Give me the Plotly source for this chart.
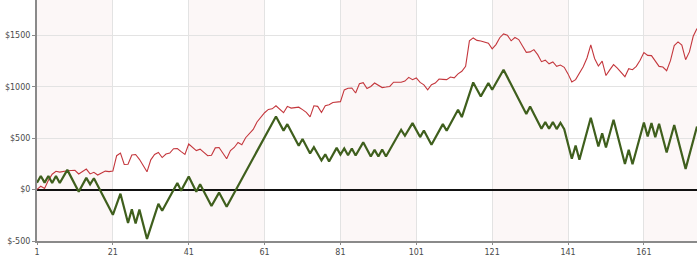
import plotly.graph_objects as go

# ---- data ----
red_vals = [
    2, 33, 12, 90, 150, 178, 170, 178, 183, 186,
    188, 152, 176, 200, 153, 168, 142, 160, 180, 175,
    180, 330, 355, 245, 246, 336, 342, 295, 235, 173,
    290, 342, 361, 312, 346, 355, 398, 400, 370, 342,
    444, 410, 380, 394, 360, 330, 335, 406, 410, 355,
    300, 380, 410, 458, 436, 505, 545, 585, 658, 705,
    748, 780, 786, 816, 780, 748, 810, 793, 798, 802,
    778, 752, 708, 816, 810, 751, 816, 825, 848, 852,
    856, 970, 987, 989, 940, 1030, 1040, 984, 1003, 1037,
    1016, 993, 998, 1004, 1045, 1045, 1045, 1056, 1092, 1070,
    1086, 1043, 1020, 972, 1021, 1037, 1076, 1073, 1070, 1096,
    1088, 1126, 1151, 1199, 1448, 1476, 1452, 1446, 1438, 1424,
    1369, 1411, 1478, 1515, 1503, 1448, 1480, 1460, 1398, 1336,
    1340, 1362, 1313, 1245, 1260, 1224, 1242, 1199, 1212, 1190,
    1126, 1047, 1070, 1135, 1195, 1281, 1408, 1276, 1203, 1250,
    1110, 1165, 1216, 1183, 1140, 1099, 1177, 1167, 1199, 1258,
    1333, 1306, 1304, 1250, 1199, 1193, 1157, 1255, 1401, 1437,
    1406, 1264, 1340, 1492, 1567,
]
red_idx = list(range(1, len(red_vals) + 1))

# green series: turning points (index, value)
green_idx = [1, 2, 3, 4, 5, 6, 7, 9, 12, 14, 15, 16, 21, 23, 25, 26, 27, 28, 30, 33,
             34, 38, 39, 41, 43, 44, 47, 49, 51, 64, 66, 67, 70, 71, 73, 74, 76, 77, 78, 80,
             81, 82, 83, 84, 85, 87, 89, 90, 91, 92, 93, 97, 98, 100, 102, 103, 105, 108, 109, 112,
             113, 116, 118, 120, 121, 124, 130, 131, 134, 135, 136, 137, 138, 139, 140, 142, 143, 144, 147, 149,
             150, 151, 153, 156, 157, 158, 161, 162, 163, 164, 165, 167, 169, 172, 175]
green_vals = [68, 133, 68, 133, 65, 133, 65, 192, -20, 114, 52, 111, -245, -40, -325, -191, -330, -195, -480, -139,
              -205, 65, -10, 127, -20, 53, -159, -29, -166, 712, 574, 637, 426, 492, 352, 413, 284, 343, 273, 406,
              341, 400, 334, 400, 332, 460, 322, 387, 322, 390, 322, 582, 524, 647, 511, 575, 436, 637, 572, 777,
              706, 1043, 907, 1037, 972, 1167, 735, 809, 592, 657, 592, 657, 589, 650, 588, 300, 429, 290, 700, 419,
              547, 410, 680, 250, 387, 247, 653, 517, 647, 509, 640, 361, 628, 202, 614]

x_ticks = [1, 21, 41, 61, 81, 101, 121, 141, 161]
y_ticks = [-500, 0, 500, 1000, 1500]
y_tick_text = ["$-500", "$0", "$500", "$1000", "$1500"]

x_max = 175
y_range = [-500, 1845]

fig = go.Figure()

fig.add_trace(go.Scatter(x=red_idx, y=red_vals, mode="lines",
                         line=dict(color="#c4373d", width=1.1), hoverinfo="skip"))
fig.add_trace(go.Scatter(x=green_idx, y=green_vals, mode="lines",
                         line=dict(color="#3f5f1d", width=2.2), hoverinfo="skip"))

# alternating background bands
shapes = []
bounds = x_ticks + [x_max]
for k in range(0, len(bounds) - 1, 2):
    shapes.append(dict(type="rect", xref="x", yref="paper",
                       x0=bounds[k], x1=bounds[k + 1], y0=0, y1=1,
                       fillcolor="#fcf7f7", line=dict(width=0), layer="below"))

fig.update_layout(
    width=700, height=257,
    margin=dict(l=37, r=3, t=0, b=16),
    paper_bgcolor="white", plot_bgcolor="white",
    showlegend=False,
    shapes=shapes,
    font=dict(family="DejaVu Sans", size=8, color="#4a4a4a"),
)
fig.update_xaxes(range=[1, x_max], tickvals=x_ticks, showgrid=True,
                 gridcolor="#e3e3e3", gridwidth=1, zeroline=False,
                 showline=True, linecolor="#8a8a8a", linewidth=2,
                 ticks="outside", ticklen=2, tickcolor="#8a8a8a",
                 tickfont=dict(family="DejaVu Sans", size=8, color="#4a4a4a"))
fig.update_yaxes(range=y_range, tickvals=y_ticks, ticktext=y_tick_text,
                 showgrid=True, gridcolor="#e3e3e3", gridwidth=1,
                 zeroline=True, zerolinecolor="#111111", zerolinewidth=1.6,
                 showline=True, linecolor="#8a8a8a", linewidth=2,
                 ticks="outside", ticklen=3, tickcolor="#8a8a8a",
                 tickfont=dict(family="DejaVu Sans", size=8, color="#4a4a4a"))

fig.write_html("out.html")
